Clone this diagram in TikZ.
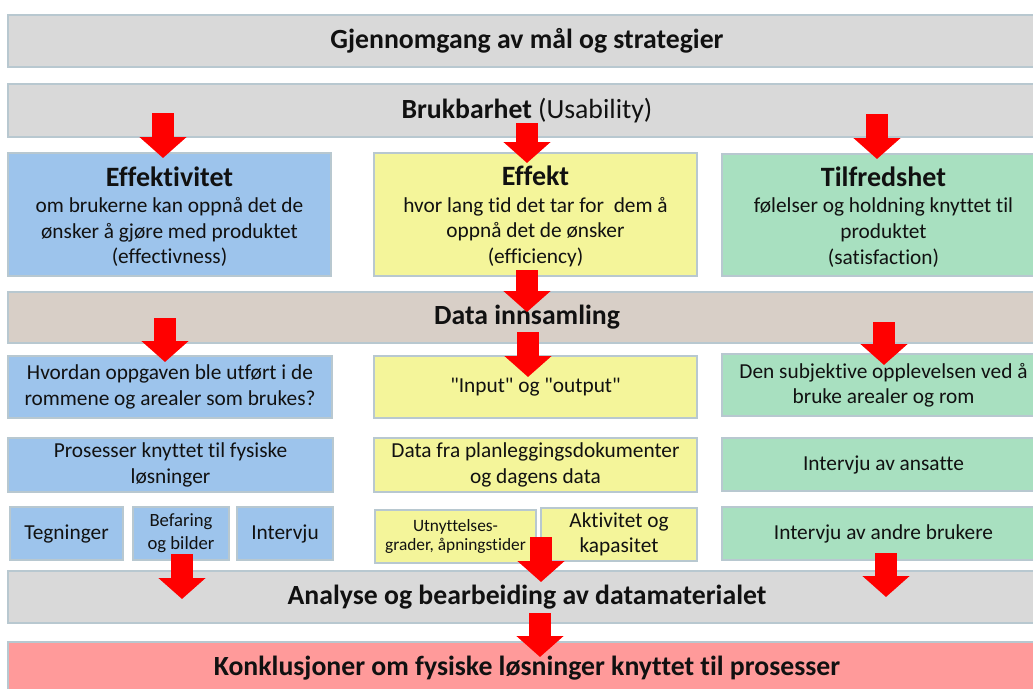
\documentclass[tikz,border=0pt]{standalone}
\usepackage{fontspec}
\setmainfont{Carlito}[Ligatures={NoCommon,TeXOff}]
\usetikzlibrary{arrows.meta}
\definecolor{gbox}{HTML}{D9D9D9}
\definecolor{beige}{HTML}{D8CFC7}
\definecolor{bluebox}{HTML}{9DC4EC}
\definecolor{yelbox}{HTML}{F4F59A}
\definecolor{grnbox}{HTML}{A8E0C0}
\definecolor{pinkbox}{HTML}{FF9A9A}
\definecolor{edge}{HTML}{B8C8D0}
\definecolor{arrred}{HTML}{FF0000}
\definecolor{txt}{HTML}{111111}
\begin{document}
\begin{tikzpicture}[x=0.75pt,y=-0.75pt,
 box/.style={draw=edge, line width=0.8pt, anchor=north west, inner sep=0pt, outer sep=0pt, align=center, text=txt},
 wh/.style 2 args={minimum width=#1*0.75pt, minimum height=#2*0.75pt},
 big/.style={font=\fontsize{20.8}{24}\selectfont\bfseries},
 body/.style={font=\fontsize{16}{19}\selectfont},
 headbody/.style={font=\fontsize{16}{19.3}\selectfont},
 blockarrow/.style={draw=arrred, line width=16.5pt, -{Triangle[width=34.5pt,length=15.75pt]}},
]
\useasboundingbox (0,0) rectangle (1033,689);
\clip (0,0) rectangle (1033,689);
\fill[white] (0,0) rectangle (1033,689);

% row boxes
\node[box, fill=gbox, wh={1038}{52}, big] (goal) at (8,15) {Gjennomgang av mål og strategier};
\node[box, fill=gbox, wh={1038}{53}, font=\fontsize{20.8}{24}\selectfont] (bruk) at (8,84) {\textbf{Brukbarhet} (Usability)};

\node[box, fill=bluebox, wh={323}{123}, headbody] (effv) at (8,153)
 {\rule{0pt}{18pt}{\fontsize{21}{21}\selectfont\bfseries Effektivitet}\\[0.5pt]om brukerne kan oppnå det de\\ønsker å gjøre med produktet\\(effectivness)};
\node[box, fill=yelbox, wh={323}{123}, headbody] (effk) at (374,153)
 {\rule{0pt}{18pt}{\fontsize{21}{21}\selectfont\bfseries Effekt}\\[0.5pt]hvor lang tid det tar for\ \ dem å\\oppnå det de ønsker\\(efficiency)};
\node[box, fill=grnbox, wh={323}{122}, headbody] (tilf) at (722,154)
 {\rule{0pt}{18pt}{\fontsize{21}{21}\selectfont\bfseries Tilfredshet}\\[0.5pt]følelser og holdning knyttet til\\produktet\\(satisfaction)};

\node[box, fill=beige, wh={1038}{51}, big] (data) at (8,292) {Data innsamling};

\node[box, fill=bluebox, wh={324}{62}, body] (hvor) at (8,356) {Hvordan oppgaven ble utført i de\\rommene og arealer som brukes?};
\node[box, fill=yelbox, wh={323}{62}, body] (inp) at (374,356) {"Input" og "output"};
\node[box, fill=grnbox, wh={323}{62}, body] (subj) at (722,354) {Den subjektive opplevelsen ved å\\bruke arealer og rom};

\node[box, fill=bluebox, wh={325}{54}, body] (pros) at (8,438) {Prosesser knyttet til fysiske\\løsninger};
\node[box, fill=yelbox, wh={323}{54}, body] (plan) at (374,438) {Data fra planleggingsdokumenter\\og dagens data};
\node[box, fill=grnbox, wh={323}{53}, body] (ansa) at (722,438) {Intervju av ansatte};

\node[box, fill=bluebox, wh={113}{53}, body] (tegn) at (10,507) {Tegninger};
\node[box, fill=bluebox, wh={96}{53}, font=\fontsize{14}{17}\selectfont] (befa) at (133,507) {Befaring\\og bilder};
\node[box, fill=bluebox, wh={96}{53}, body] (intv) at (237,507) {Intervju};
\node[box, fill=yelbox, wh={161}{53}, font=\fontsize{13}{14}\selectfont] (utny) at (375,510) {Utnyttelses-\\grader, åpningstider};
\node[box, fill=yelbox, wh={156}{53}, body] (akti) at (541,508) {Aktivitet og\\kapasitet};
\node[box, fill=grnbox, wh={323}{53}, body] (andr) at (722,507) {Intervju av andre brukere};

\node[box, fill=gbox, wh={1038}{52}, big] (anal) at (8,571) {Analyse og bearbeiding av datamaterialet};
\node[box, fill=pinkbox, wh={1038}{52}, big] (konk) at (8,642) {Konklusjoner om fysiske løsninger knyttet til prosesser};

% arrow end points
\coordinate (a1s) at (163,113); \coordinate (a1e) at (163,158);
\coordinate (a2s) at (527,123); \coordinate (a2e) at (527,163);
\coordinate (a3s) at (877,114); \coordinate (a3e) at (877,159);
\coordinate (a4s) at (527,270); \coordinate (a4e) at (527,312);
\coordinate (a5s) at (165,318); \coordinate (a5e) at (165,362);
\coordinate (a6s) at (528,332); \coordinate (a6e) at (528,377);
\coordinate (a7s) at (884,322); \coordinate (a7e) at (884,365);
\coordinate (a8s) at (182,554); \coordinate (a8e) at (182,599);
\coordinate (a9s) at (541,537); \coordinate (a9e) at (541,582);
\coordinate (a10s) at (886,553); \coordinate (a10e) at (886,597);
\coordinate (a11s) at (540,613); \coordinate (a11e) at (540,657);

\foreach \i in {1,...,11} { \draw[blockarrow] (a\i s) -- (a\i e); }
\end{tikzpicture}
\end{document}
